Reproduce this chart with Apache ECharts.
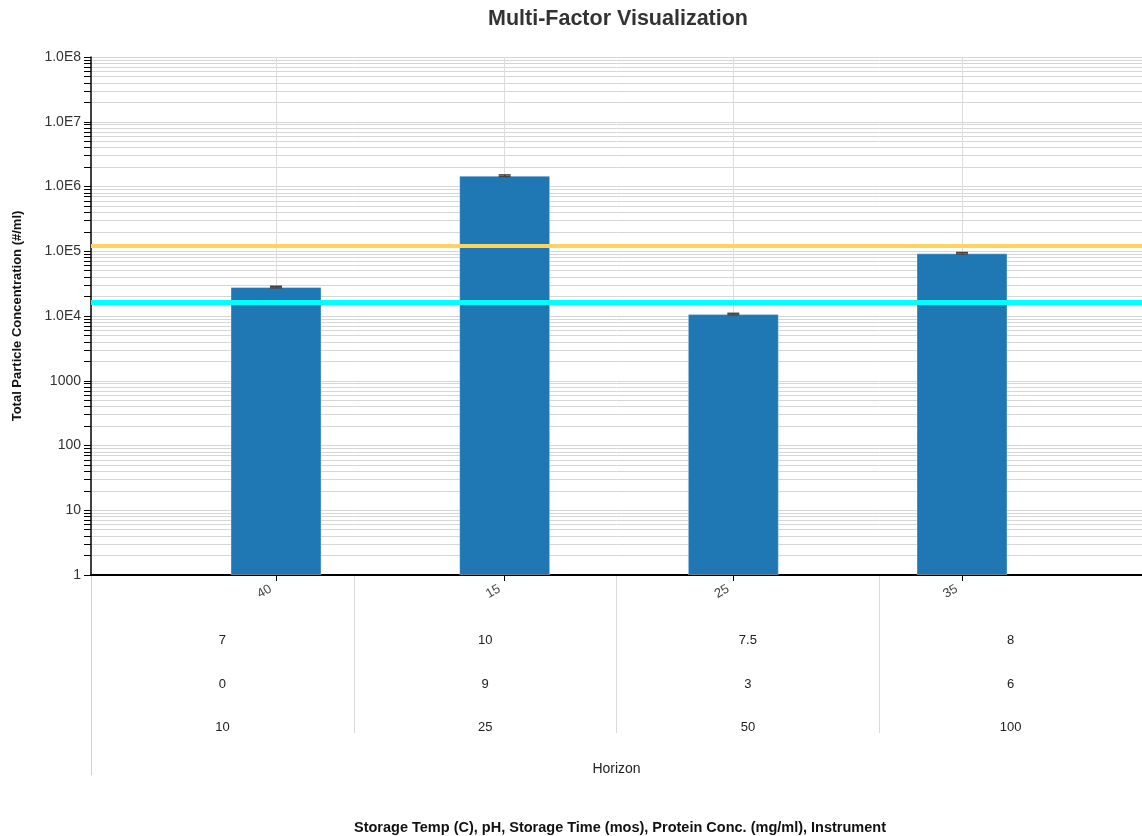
<!DOCTYPE html>
<html>
<head>
<meta charset="utf-8">
<title>Multi-Factor Visualization</title>
<script src="https://cdn.jsdelivr.net/npm/echarts@6/dist/echarts.min.js"></script>
<style>
    html, body { margin: 0; padding: 0; background: #fff; }
    #chart { width: 1142px; height: 836px; }
</style>
</head>
<body>
<div id="chart"></div>
<script>
// factor levels, one per bar
const storageTemp = ['40', '15', '25', '35']
const pH = ['7', '10', '7.5', '8']
const storageTime = ['0', '9', '3', '6']
const proteinConc = ['10', '25', '50', '100']
const instrument = ['Horizon']

// total particle concentration (#/ml) and its error range
const concentration = [28000, 1470000, 10700, 93000]
const errLow = [27200, 1430000, 10400, 90500]
const errHigh = [28800, 1510000, 11000, 95500]

// reference limits
const limitHigh = 123000
const limitLow = 16400

// y axis decades (labelled) and the 1..9 steps inside each decade (ticks + grid)
const majorTicks = [1, 10, 100, 1000, 1e4, 1e5, 1e6, 1e7, 1e8]
const decadeSteps = [1, 2, 3, 4, 5, 6, 7, 8, 9]
const allTicks = []
majorTicks.slice(0, -1).forEach(d => decadeSteps.forEach(s => allTicks.push(d * s)))
allTicks.push(1e8)

const font = 'Liberation Sans, Arial, sans-serif'

function fmtLog(v){
    if (v < 1e4) return String(v)
    return v.toExponential(1).toUpperCase().replace('+', '')
}

const chart = echarts.init(document.getElementById('chart'))

let option = {
    animation: false,
    textStyle: { fontFamily: font },
    title: [
        {
            text: 'Multi-Factor Visualization',
            left: 618,
            top: 8,
            padding: 0,
            textAlign: 'center',
            textStyle: { fontSize: 21.5, fontWeight: 'bold', color: '#333', fontFamily: font }
        },
        {
            text: 'Storage Temp (C), pH, Storage Time (mos), Protein Conc. (mg/ml), Instrument',
            left: 620,
            top: 820,
            padding: 0,
            textAlign: 'center',
            textStyle: { fontSize: 14.5, fontWeight: 'bold', color: '#111', fontFamily: font }
        }
    ],
    grid: [
        { left: 91, right: 0, top: 57, height: 518 },
        { left: 276, width: 686, top: 57, height: 518 },
        { left: 91, width: 1052, top: 575, height: 158 },
        { left: 91, right: 0, top: 575, height: 200 }
    ],
    xAxis: [
        {
            gridIndex: 0, type: 'value', min: 0, max: 1,
            axisLine: { show: true, lineStyle: { color: '#000', width: 2 } },
            axisTick: { show: false }, axisLabel: { show: false }, splitLine: { show: false }
        },
        {
            gridIndex: 1, type: 'category', data: storageTemp, boundaryGap: false,
            axisLine: { show: true, lineStyle: { color: '#000', width: 2 } },
            axisTick: { show: true, length: 6, lineStyle: { color: '#000' } },
            splitLine: { show: true, lineStyle: { color: '#dcdcdc', width: 1 } },
            axisLabel: { rotate: 30, fontSize: 13, color: '#444', margin: 10, padding: [0, 6, 0, 0] }
        },
        {
            gridIndex: 2, type: 'category', data: storageTemp, position: 'top',
            axisLine: { show: false }, axisTick: { show: false },
            splitLine: { show: true, lineStyle: { color: '#d9d9d9', width: 1 } },
            axisLabel: {
                inside: true, margin: 44, lineHeight: 43.5, fontSize: 13, color: '#222',
                formatter: (v, i) => pH[i] + '\n' + storageTime[i] + '\n' + proteinConc[i]
            }
        },
        {
            gridIndex: 3, type: 'category', data: instrument, position: 'top',
            axisLine: { show: false }, axisTick: { show: false }, splitLine: { show: false },
            axisLabel: { inside: true, margin: 187, fontSize: 14, color: '#222' }
        }
    ],
    yAxis: [
        {
            gridIndex: 0, type: 'log', logBase: 10, min: 1, max: 1e8,
            name: 'Total Particle Concentration (#/ml)',
            nameLocation: 'middle', nameGap: 67,
            nameTextStyle: { fontSize: 13, fontWeight: 'bold', color: '#111' },
            axisLine: { show: true, lineStyle: { color: '#000', width: 1.5 } },
            axisTick: { show: true, length: 7, customValues: allTicks, lineStyle: { color: '#000' } },
            splitLine: { show: true, lineStyle: { color: '#d6d6d6' } },
            axisLabel: { fontSize: 14, color: '#333', margin: 10, customValues: majorTicks, formatter: fmtLog }
        },
        { gridIndex: 1, type: 'log', logBase: 10, min: 1, max: 1e8, show: false },
        { gridIndex: 2, type: 'value', show: false },
        {
            gridIndex: 3, type: 'value',
            axisLine: { show: true, lineStyle: { color: '#d0d0d0' } },
            axisTick: { show: false }, axisLabel: { show: false }, splitLine: { show: false }
        }
    ],
    series: [
        {
            name: 'limits',
            type: 'line',
            xAxisIndex: 0, yAxisIndex: 0,
            data: [],
            z: 5,
            markLine: {
                silent: true,
                symbol: 'none',
                label: { show: false },
                data: [
                    { yAxis: limitHigh, lineStyle: { color: '#ffd45e', width: 4, type: 'solid' } },
                    { yAxis: limitLow, lineStyle: { color: '#00ffff', width: 5, type: 'solid' } }
                ]
            }
        },
        {
            name: 'concentration',
            type: 'bar',
            xAxisIndex: 1, yAxisIndex: 1,
            data: concentration,
            barWidth: 91,
            clip: false,
            itemStyle: { color: '#1f77b4', borderColor: 'rgba(255,255,255,0.35)', borderWidth: 1 }
        },
        {
            name: 'error',
            type: 'custom',
            xAxisIndex: 1, yAxisIndex: 1,
            z: 6,
            data: errLow.map((lo, i) => [i, lo, errHigh[i]]),
            renderItem(params, api){
                const i = api.value(0)
                const lo = api.coord([i, api.value(1)])
                const hi = api.coord([i, api.value(2)])
                const half = 6
                const style = { stroke: '#444', lineWidth: 1.5 }
                return {
                    type: 'group',
                    children: [
                        { type: 'line', shape: { x1: hi[0] - half, y1: hi[1], x2: hi[0] + half, y2: hi[1] }, style },
                        { type: 'line', shape: { x1: lo[0], y1: lo[1], x2: hi[0], y2: hi[1] }, style },
                        { type: 'line', shape: { x1: lo[0] - half, y1: lo[1], x2: lo[0] + half, y2: lo[1] }, style }
                    ]
                }
            }
        }
    ]
}

chart.setOption(option)
</script>
</body>
</html>
